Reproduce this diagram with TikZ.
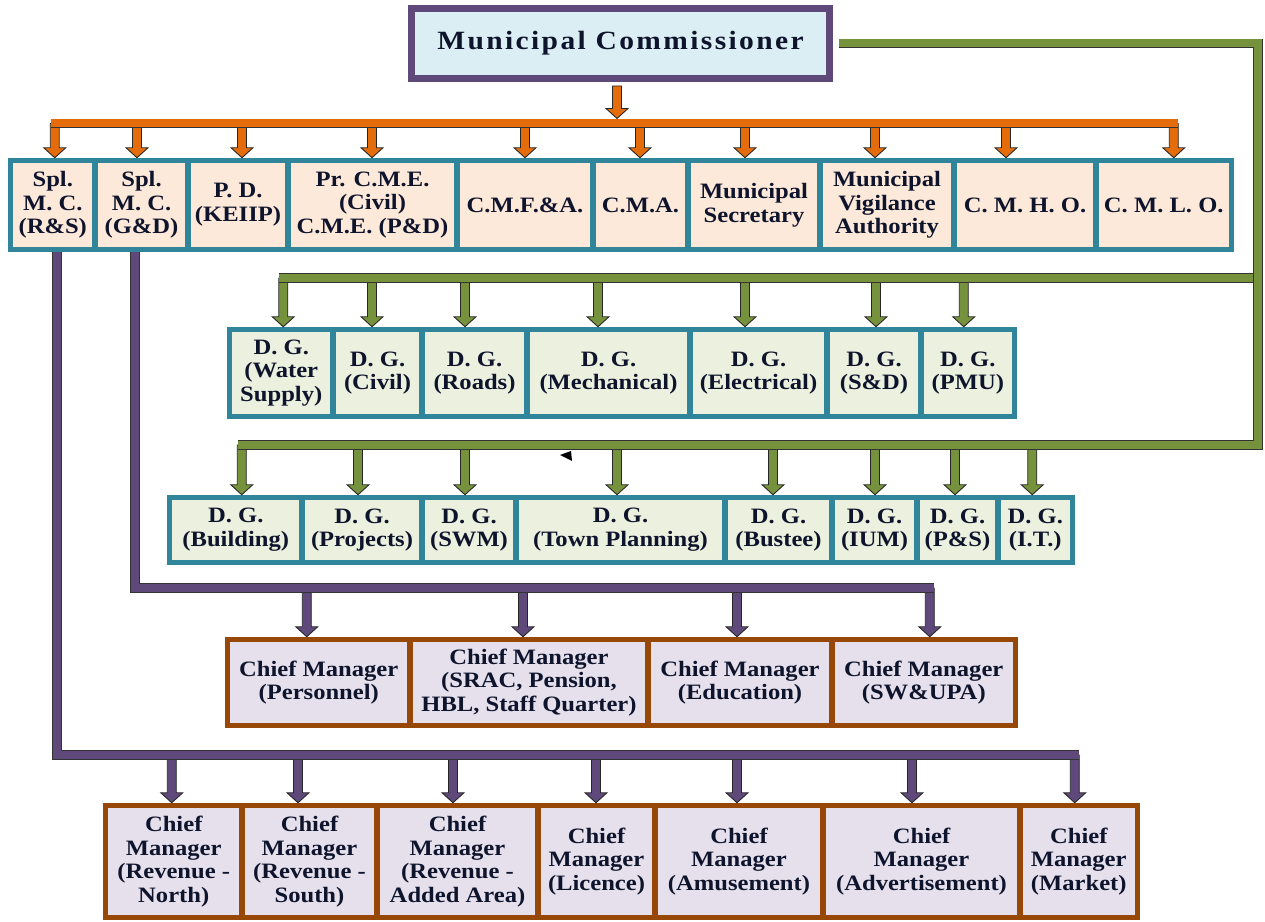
\documentclass[tikz,border=0pt]{standalone}
\usepackage{fontspec}
\setmainfont{Liberation Serif}[FakeStretch=1.12]
\newfontfamily\titlefont{Liberation Serif}[FakeStretch=1.12,LetterSpace=9]
\usepackage{tikz}
\usetikzlibrary{calc}

\definecolor{mcpurple}{RGB}{95,73,122}
\definecolor{mcfill}{RGB}{219,238,243}
\definecolor{oran}{RGB}{228,108,10}
\definecolor{tealf}{RGB}{49,133,155}
\definecolor{peach}{RGB}{253,233,217}
\definecolor{grn}{RGB}{118,146,60}
\definecolor{lgreen}{RGB}{235,241,222}
\definecolor{lav}{RGB}{229,224,236}
\definecolor{brownf}{RGB}{152,72,6}
\definecolor{txt}{RGB}{15,20,45}

\tikzset{
  box/.style={draw=#1, line width=0.11cm, rectangle, align=center, inner sep=0pt,
    text=txt, font=\bfseries\fontsize{12.5}{13.5}\selectfont},
  obox/.style={box=tealf, fill=peach},
  gbox/.style={box=tealf, fill=lgreen},
  lbox/.style={box=brownf, fill=lav},
  bw/.style={minimum width=#1*0.02cm},
  bh/.style={minimum height=#1*0.02cm},
  bus/.style={draw=black!80, line width=0.5pt, double=#1, double distance=0.16cm},
}

% block arrow: fill colour, start (only y used), tip
\newcommand{\barrow}[3]{%
  \draw[fill=#1, draw=black!85, line width=0.5pt] let \p1=(#2), \p2=(#3) in
    (\x2-0.09cm,\y1) -- (\x2+0.09cm,\y1) -- (\x2+0.09cm,\y2+0.2cm)
    -- (\x2+0.22cm,\y2+0.2cm) -- (\x2,\y2) -- (\x2-0.22cm,\y2+0.2cm)
    -- (\x2-0.09cm,\y2+0.2cm) -- cycle;}

\begin{document}
\begin{tikzpicture}[x=0.02cm, y=-0.02cm]
    \useasboundingbox (0,0) rectangle (1265,922);

    % Commissioner
    \node[draw=mcpurple, line width=0.14cm, fill=mcfill, minimum width=418*0.02cm,
      minimum height=70*0.02cm, text=txt, font=\titlefont\bfseries\fontsize{15}{18}\selectfont]
      (mc) at (620.5,43.5) {Municipal Commissioner};

    % Row 1
    \node[obox, bw=84.5, bh=89] (o1) at (52.75,205) {Spl.\\M. C.\\(R\&S)};
    \node[obox, bw=93, bh=89] (o2) at (141.5,205) {Spl.\\M. C.\\(G\&D)};
    \node[obox, bw=100, bh=89] (o3) at (238,205) {P. D.\\(KEIIP)};
    \node[obox, bw=169, bh=89] (o4) at (372.5,205) {Pr. C.M.E.\\(Civil)\\C.M.E. (P\&D)};
    \node[obox, bw=136, bh=89] (o5) at (525,205) {C.M.F.\&A.};
    \node[obox, bw=95, bh=89] (o6) at (640.5,205) {C.M.A.};
    \node[obox, bw=132, bh=89] (o7) at (754,205) {Municipal\\Secretary};
    \node[obox, bw=134, bh=89] (o8) at (887,205) {Municipal\\Vigilance\\Authority};
    \node[obox, bw=142, bh=89] (o9) at (1025,205) {C. M. H. O.};
    \node[obox, bw=135.5, bh=89] (o10) at (1163.75,205) {C. M. L. O.};

    % Row 2
    \node[gbox, bw=103.5, bh=87] (d1) at (281.25,373) {D. G.\\(Water\\Supply)};
    \node[gbox, bw=89, bh=87] (d2) at (377.5,373) {D. G.\\(Civil)};
    \node[gbox, bw=105, bh=87] (d3) at (474.5,373) {D. G.\\(Roads)};
    \node[gbox, bw=163, bh=87] (d4) at (608.5,373) {D. G.\\(Mechanical)};
    \node[gbox, bw=137, bh=87] (d5) at (758.5,373) {D. G.\\(Electrical)};
    \node[gbox, bw=94, bh=87] (d6) at (874,373) {D. G.\\(S\&D)};
    \node[gbox, bw=93.5, bh=87] (d7) at (967.75,373) {D. G.\\(PMU)};

    % Row 3
    \node[gbox, bw=132.5, bh=65] (e1) at (235.75,530) {D. G.\\(Building)};
    \node[gbox, bw=120, bh=65] (e2) at (362,530) {D. G.\\(Projects)};
    \node[gbox, bw=94, bh=65] (e3) at (469,530) {D. G.\\(SWM)};
    \node[gbox, bw=209, bh=65] (e4) at (620.5,530) {D. G.\\(Town Planning)};
    \node[gbox, bw=107, bh=65] (e5) at (778.5,530) {D. G.\\(Bustee)};
    \node[gbox, bw=85, bh=65] (e6) at (874.5,530) {D. G.\\(IUM)};
    \node[gbox, bw=81, bh=65] (e7) at (957.5,530) {D. G.\\(P\&S)};
    \node[gbox, bw=74.5, bh=65] (e8) at (1035.25,530) {D. G.\\(I.T.)};

    % Row 4
    \node[lbox, bw=182.5, bh=86] (q1) at (318.75,682.5) {Chief Manager\\(Personnel)};
    \node[lbox, bw=238, bh=86] (q2) at (529,682.5) {Chief Manager\\(SRAC, Pension,\\HBL, Staff Quarter)};
    \node[lbox, bw=184, bh=86] (q3) at (740,682.5) {Chief Manager\\(Education)};
    \node[lbox, bw=183.5, bh=86] (q4) at (923.75,682.5) {Chief Manager\\(SW\&UPA)};

    % Row 5
    \node[lbox, bw=136.5, bh=112] (r1) at (173.75,861.5) {Chief\\Manager\\(Revenue -\\North)};
    \node[lbox, bw=135, bh=112] (r2) at (309.5,861.5) {Chief\\Manager\\(Revenue -\\South)};
    \node[lbox, bw=161, bh=112] (r3) at (457.5,861.5) {Chief\\Manager\\(Revenue -\\Added Area)};
    \node[lbox, bw=117, bh=112] (r4) at (596.5,861.5) {Chief\\Manager\\(Licence)};
    \node[lbox, bw=168, bh=112] (r5) at (739,861.5) {Chief\\Manager\\(Amusement)};
    \node[lbox, bw=197, bh=112] (r6) at (921.5,861.5) {Chief\\Manager\\(Advertisement)};
    \node[lbox, bw=117.5, bh=112] (r7) at (1078.75,861.5) {Chief\\Manager\\(Market)};

    % Bus points
    \coordinate (obusL) at (51,123.5);
    \coordinate (obusR) at (1178,123.5);
    \coordinate (g2L) at (279,278);
    \coordinate (g2R) at (1254,278);
    \coordinate (g3R) at (1258,445);
    \coordinate (g3L) at (238,445);
    \coordinate (p1R) at (934,588);
    \coordinate (p2R) at (1079,755);

    % Arrows
    \barrow{oran}{$(mc.south)+(0,4)$}{$(obusL -| mc.south)+(-3.5,-5)$}
    \foreach \b/\d in {o1/2, o2/-4.5, o3/4, o4/-0.5, o5/0, o6/-0.5, o7/-9, o8/-12, o9/-19, o10/10}
        \barrow{oran}{obusL}{$(\b.north)+(\d,0)$};
    \foreach \b/\d in {d1/2, d2/-5.5, d3/-9.5, d4/-10.5, d5/-13.5, d6/2, d7/-4}
        \barrow{grn}{g2L}{$(\b.north)+(\d,0)$};
    \foreach \b/\d in {e1/6, e2/-4, e3/-4, e4/-3.5, e5/-5.5, e6/0.5, e7/-2.5, e8/-3}
        \barrow{grn}{g3L}{$(\b.north)+(\d,0)$};
    \foreach \b/\d in {q1/-12, q2/-6, q3/-3, q4/6}
        \barrow{mcpurple}{p1R}{$(\b.north)+(\d,0)$};
    \foreach \b/\d in {r1/-2, r2/-11.5, r3/-4.5, r4/-0.5, r5/-2, r6/-9.5, r7/-4}
        \barrow{mcpurple}{p2R}{$(\b.north)+(\d,0)$};

    % Buses
    \draw[bus=oran] (obusL) -- (obusR);
    \draw[bus=grn] (g2R) -- (g2L);
    \draw[bus=grn] ($(mc.east)+(6,0)$) -| (g3R) -- (g3L);
    \draw[bus=mcpurple] ($(o2.south)+(-6.5,0)$) |- (p1R);
    \draw[bus=mcpurple] ($(o1.south)+(4,0)$) |- (p2R);

    % stray tip
    \fill[black] (560,455) -- (571,451) -- (572,461) -- cycle;

\end{tikzpicture}
\end{document}
